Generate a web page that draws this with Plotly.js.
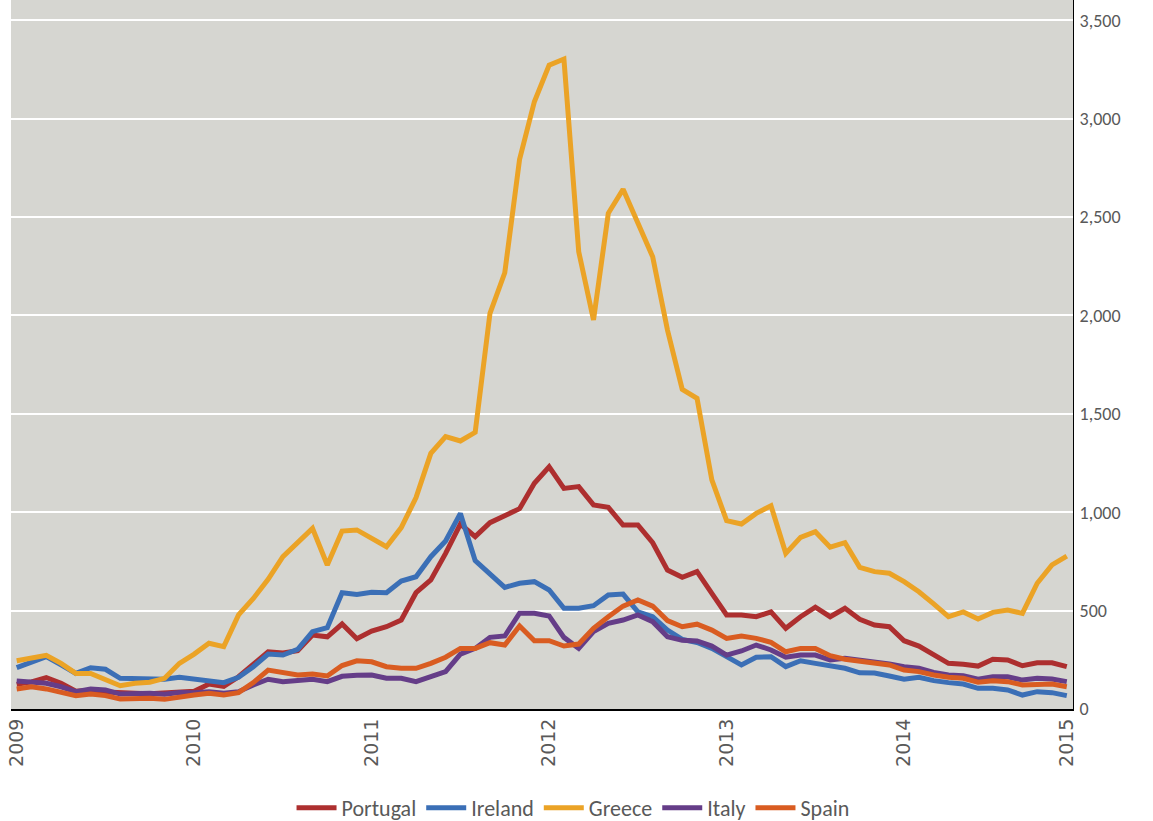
<!DOCTYPE html>
<html>
<head>
<meta charset="utf-8">
<script src="https://cdn.plot.ly/plotly-3.0.1.min.js"></script>
<style>html,body{margin:0;padding:0;background:#fff;}#chart{width:1153px;height:821px;}</style>
</head>
<body>
<div id="chart"></div>
<script>
// Monthly index, Jan 2009 (0) .. Dec 2014 (71)
const months = Array.from({length: 72}, (_, i) => i);
const tickPositions = [0, 12, 24, 36, 48, 60, 71];
const tickLabels = ["2009", "2010", "2011", "2012", "2013", "2014", "2015"];
const yTicks = [0, 500, 1000, 1500, 2000, 2500, 3000, 3500];
const seriesNames = ["Portugal", "Ireland", "Greece", "Italy", "Spain"];

const portugal = [125,138,160,131,90,95,86,80,80,78,80,85,90,127,115,164,224,291,285,296,376,367,432,357,
  396,418,452,591,656,791,940,876,947,986,1018,1147,1231,1121,1130,1037,1025,935,935,845,706,669,
  698,588,478,478,469,494,410,469,517,469,512,456,427,418,347,320,279,232,227,218,253,249,220,235,235,215];
const ireland = [210,240,266,224,181,210,202,156,156,156,151,161,151,147,134,161,215,279,274,303,393,413,591,582,
  593,591,650,672,774,854,994,754,686,618,639,647,605,512,512,525,579,584,494,469,401,354,
  338,308,266,224,263,266,215,245,232,218,207,184,183,168,151,161,144,134,127,105,105,97,71,88,83,68];
const greece = [245,256,273,232,181,181,147,118,131,136,156,232,279,334,317,478,562,659,774,845,918,732,904,910,
  868,825,922,1074,1299,1384,1362,1406,2011,2217,2793,3086,3272,3303,2324,1977,2519,2641,2470,2298,1926,1624,
  1579,1164,957,940,994,1033,791,872,901,822,845,720,698,690,647,596,534,469,493,457,491,503,486,639,732,777];
const italy = [142,139,131,113,88,102,97,76,80,80,75,84,83,88,80,88,122,151,139,142,151,139,166,172,
  173,156,156,139,164,190,279,308,364,371,487,486,473,364,308,393,435,452,478,444,367,349,
  346,320,274,295,325,300,263,274,274,249,258,249,242,229,215,207,186,173,169,151,164,164,147,156,152,139];
const spain = [102,113,102,88,68,76,68,51,54,54,49,63,71,80,71,83,134,198,184,173,178,168,221,245,
  240,215,207,207,232,263,308,308,337,325,422,347,347,320,330,410,469,523,554,523,449,418,
  431,401,359,371,359,339,291,308,308,271,253,244,238,224,198,190,173,161,156,136,144,139,122,127,127,113];

const colors = ["#ad2f2f", "#3b6fb6", "#eba326", "#653d88", "#d95c21"];
const allSeries = [portugal, ireland, greece, italy, spain];

const traces = allSeries.map((vals, k) => ({
  type: "scatter",
  mode: "lines",
  name: seriesNames[k],
  x: months,
  y: vals,
  line: {color: colors[k], width: 5, shape: "linear"},
  hoverinfo: "x+y+name"
}));

const fontStack = "Carlito, 'Liberation Sans Narrow', 'Open Sans', sans-serif";

const layout = {
  width: 1153,
  height: 821,
  margin: {l: 11, r: 80, t: 0, b: 112, pad: 0},
  paper_bgcolor: "#ffffff",
  plot_bgcolor: "#d6d6d1",
  showlegend: true,
  legend: {
    orientation: "h",
    xref: "container", yref: "container",
    x: 0.497, xanchor: "center",
    y: 0.016, yanchor: "middle",
    font: {family: fontStack, size: 22, color: "#595959"},
    itemwidth: 40,
    traceorder: "normal"
  },
  xaxis: {
    range: [-0.385, 71.42],
    tickmode: "array",
    tickvals: tickPositions,
    ticktext: tickLabels,
    tickangle: -90,
    tickfont: {family: "'DejaVu Sans', sans-serif", size: 19, color: "#595959"},
    showgrid: false,
    zeroline: false,
    showline: true,
    linecolor: "#000000",
    linewidth: 2,
    ticks: "",
    fixedrange: true
  },
  yaxis: {
    side: "right",
    range: [0, 3603],
    tickmode: "array",
    tickvals: yTicks,
    tickformat: ",",
    tickfont: {family: fontStack, size: 18, color: "#595959"},
    showgrid: true,
    gridcolor: "#ffffff",
    gridwidth: 2,
    zeroline: false,
    showline: true,
    linecolor: "#000000",
    linewidth: 1,
    ticks: "",
    ticklabelstandoff: 2,
    fixedrange: true
  }
};

Plotly.newPlot("chart", traces, layout, {displayModeBar: false, staticPlot: true});
</script>
</body>
</html>
